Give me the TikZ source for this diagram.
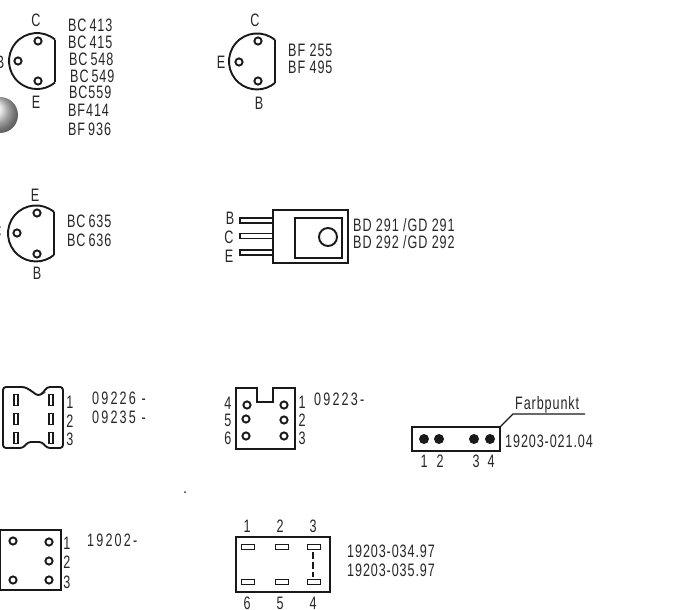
\documentclass[tikz,border=0pt]{standalone}
\usepackage{fontspec}
\setmainfont[FakeStretch=0.7,LetterSpace=5]{Liberation Sans}
\usetikzlibrary{shadings}

\begin{document}
\begin{tikzpicture}[x=1pt,y=-1pt,
    case/.style={line width=1.9pt,black!90},
    thinline/.style={line width=1.2pt,black!90},
    pin/.style={line width=1.9pt,black!90,fill=white},
    lbl/.style={inner sep=0pt,text=black!85,font=\fontsize{18}{20}\selectfont},
    txt/.style={lbl,anchor=west},
    wider/.style={font=\fontsize{18}{20}\selectfont\addfontfeatures{LetterSpace=12}}]
        \useasboundingbox (0,0) rectangle (693,610);

        % Round case, C top
        \draw[case] (55,39.6) arc[start angle=-50,end angle=-310,radius=28];
        \draw[case] (55,39.6) -- (55,82.4);
        \foreach \px/\py in {38/41,18/61,38/81} \draw[pin] (\px,\py) circle (3.6);
        \node[lbl] (c1) at (36,20) {C};
        \node[lbl] (b1) at (0,62) {B};
        \node[lbl] (e1) at (36,102) {E};
        \foreach \tx/\ty/\tname in {68/25/BC\,413,68/42/BC\,415,69/59/BC\,548,70/76/BC\,549,69/92/BC559,68/110/BF414,68/129/BF\,936}
            \node[txt] at (\tx,\ty) {\tname};

        % Smudge
        \shade[ball color=gray!22,draw=none] (0,115) circle (18);

        % Round case, E left
        \draw[case] (275,40) arc[start angle=-50,end angle=-310,radius=28];
        \draw[case] (275,40) -- (275,83);
        \foreach \px/\py in {258/41,239/62,258/81} \draw[pin] (\px,\py) circle (3.6);
        \node[lbl] (c2) at (255,20) {C};
        \node[lbl] (e2) at (221,62) {E};
        \node[lbl] (b2) at (259,103) {B};
        \node[txt] at (288,50) {BF 255};
        \node[txt] at (288,67) {BF 495};

        % Round case, B bottom
        \draw[case] (54,212) arc[start angle=-50,end angle=-310,radius=28];
        \draw[case] (54,212) -- (54,255);
        \foreach \px/\py in {37/213,17/233,37/254} \draw[pin] (\px,\py) circle (3.6);
        \node[lbl] (e3) at (35,195) {E};
        \node[lbl] (c3) at (-3,231) {C};
        \node[lbl] (b3) at (37,273) {B};
        \node[txt] at (67,221) {BC\,635};
        \node[txt] at (67,240) {BC\,636};

        % Flat power case
        \draw[case] (273,210) rectangle (348,263);
        \draw[case] (295,218) rectangle (342,258);
        \draw[case] (328,237) circle (9);
        \foreach \ly in {218,233.5,250}
            \draw[thinline,line width=1.6pt] (273,\ly) -- (240,\ly) -- (240,\ly+5) -- (273,\ly+5);
        \node[lbl] (b4) at (230,218) {B};
        \node[lbl] (c4) at (229,237) {C};
        \node[lbl] (e4) at (229,256) {E};
        \node[txt] at (353,225) {BD 291 /GD 291};
        \node[txt] at (353,242) {BD 292 /GD 292};

        % Socket with two notches
        \draw[case,rounded corners=3pt] (3,420) -- (3,448) -- (23,448) -- (28,442) -- (42,442) -- (47,448) -- (63,448)
            -- (63,387) -- (47,387) -- (43,393) -- (38,396) -- (33,392) -- (25,387) -- (3,387) -- cycle;
        \foreach \px in {16,51} \foreach \py in {400,419,438}
            \draw[pin,line width=1.7pt] (\px-2,\py-5.5) rectangle (\px+2,\py+5.5);
        \foreach \ny/\nlabel in {402/1,421/2,439/3} \node[lbl] at (70,\ny) {\nlabel};
        \node[txt,wider] at (92,398) {09226 -};
        \node[txt,wider] at (92,417) {09235 -};

        % Socket with one notch
        \draw[case] (236,388) -- (257,388) -- (257,402) -- (273,402) -- (273,388) -- (295,388) -- (295,449) -- (236,449) -- cycle;
        \foreach \px/\py in {247/405,284/405,246/419,284/420,246/436,284/436} \draw[pin] (\px,\py) circle (3.6);
        \foreach \ny/\nlabel in {403/4,420/5,438/6} \node[lbl] at (228,\ny) {\nlabel};
        \foreach \ny/\nlabel in {402/1,420/2,438/3} \node[lbl] at (302,\ny) {\nlabel};
        \node[txt,wider] at (314,399) {09223-};

        % Four dots
        \draw[case,line width=2.2pt] (412,427) rectangle (500,451);
        \foreach \px in {424,439,474,490} \fill[black!90] (\px,439) circle (5);
        \foreach \nx/\nlabel in {424/1,440/2,476/3,491/4} \node[lbl] at (\nx,461) {\nlabel};
        \node[txt] at (505,441) {19203-021.04};
        \node[txt] (farb) at (515,405) {Farbpunkt};
        \coordinate (farbend) at (585,414);
        \coordinate (farbcorner) at (500,427);
        \draw[thinline] (farbend) -- (513,414) -- (farbcorner);

        % Socket 19202
        \draw[case] (0,530) rectangle (61,590);
        \foreach \px/\py in {13/541,49/542,49/561,13/580,49/580} \draw[pin] (\px,\py) circle (3.6);
        \foreach \ny/\nlabel in {543/1,562/2,582/3} \node[lbl] at (67,\ny) {\nlabel};
        \node[txt,wider] at (87,540) {19202-};

        % Six flat pads
        \draw[case,line width=2.2pt] (236,537) rectangle (330,592);
        \foreach \px in {248,282,314} \foreach \py in {547,582}
            \draw[pin,line width=1.9pt] (\px-6.5,\py-2.5) rectangle (\px+6.5,\py+2.5);
        \draw[line width=2.2pt,black!90,dash pattern=on 7pt off 3pt] (313,552) -- (313,577);
        \foreach \nx/\nlabel in {247/1,280/2,313/3} \node[lbl] at (\nx,526) {\nlabel};
        \foreach \nx/\nlabel in {247/6,280/5,313/4} \node[lbl] at (\nx,603) {\nlabel};
        \node[txt] at (347,551) {19203-034.97};
        \node[txt] at (347,570) {19203-035.97};

        % Speck
        \fill[black!80] (185,492) circle (1);
\end{tikzpicture}
\end{document}
